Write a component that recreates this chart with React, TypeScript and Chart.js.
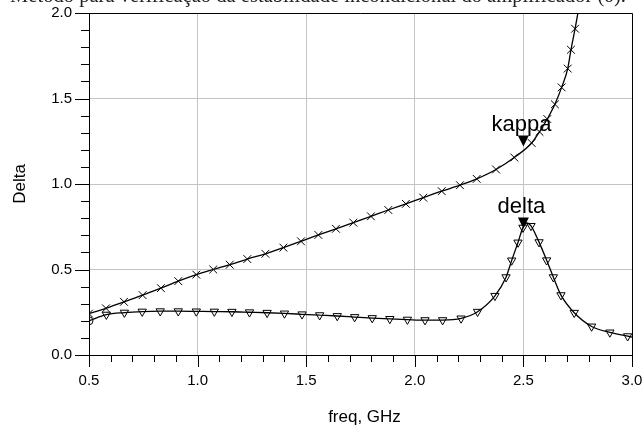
import React, { useEffect, useRef } from 'react';
import { Chart, registerables } from 'chart.js';

Chart.register(...registerables);

// ---- data ----
const kappaX = [0.5, 0.578, 0.661, 0.747, 0.831, 0.911, 0.994, 1.072, 1.148, 1.229, 1.312, 1.395, 1.476, 1.556, 1.637, 1.717, 1.798, 1.878, 1.959, 2.039, 2.124, 2.208, 2.285, 2.374, 2.458, 2.538, 2.574, 2.610, 2.645, 2.676, 2.704, 2.719, 2.738, 2.765];
const kappaY = [0.242, 0.273, 0.311, 0.350, 0.391, 0.432, 0.470, 0.500, 0.528, 0.561, 0.592, 0.628, 0.665, 0.702, 0.738, 0.774, 0.811, 0.848, 0.884, 0.920, 0.958, 0.993, 1.030, 1.085, 1.155, 1.240, 1.305, 1.380, 1.466, 1.565, 1.675, 1.785, 1.908, 2.100];

const deltaX = [0.5, 0.580, 0.663, 0.745, 0.828, 0.911, 0.994, 1.077, 1.158, 1.239, 1.320, 1.400, 1.481, 1.562, 1.643, 1.723, 1.804, 1.885, 1.966, 2.047, 2.128, 2.213, 2.289, 2.369, 2.420, 2.446, 2.475, 2.498, 2.517, 2.535, 2.572, 2.607, 2.638, 2.673, 2.734, 2.814, 2.898, 2.980, 3.0];
const deltaY = [0.200, 0.236, 0.248, 0.254, 0.256, 0.256, 0.255, 0.254, 0.253, 0.250, 0.247, 0.243, 0.238, 0.233, 0.228, 0.222, 0.216, 0.211, 0.207, 0.204, 0.204, 0.214, 0.253, 0.346, 0.455, 0.553, 0.658, 0.745, 0.772, 0.755, 0.660, 0.554, 0.455, 0.350, 0.247, 0.167, 0.132, 0.110, 0.105];
// points that only shape the curve (no symbol drawn)
const deltaNoSymbol = [28, 38];
const kappaNoSymbol = [33];

const xMin = 0.5;
const xMax = 3.0;
const yMin = 0.0;
const yMax = 2.0;

const markerNames = ['kappa', 'delta'];
const markerX = [2.5, 2.5];
const markerY = [1.22, 0.74];

const xTitle = 'freq, GHz';
const yTitle = 'Delta';
const caption = 'Método para verificação da estabilidade incondicional do amplificador (δ).';

const isMajor = (v: number) => Math.abs(v * 2 - Math.round(v * 2)) < 1e-6;

const adsPlugin = {
  id: 'adsDecor',
  afterDraw(chart: any) {
    const { ctx, chartArea: a, scales } = chart;
    const xs = scales.x;
    const ys = scales.y;
    ctx.save();
    // top & right frame
    ctx.strokeStyle = '#000';
    ctx.lineWidth = 1;
    ctx.beginPath();
    ctx.moveTo(a.left, a.top + 0.5);
    ctx.lineTo(a.right + 0.5, a.top + 0.5);
    ctx.lineTo(a.right + 0.5, a.bottom);
    ctx.stroke();
    // x ticks
    ctx.beginPath();
    for (const t of xs.ticks) {
      const px = Math.round(xs.getPixelForValue(t.value)) + 0.5;
      const len = isMajor(t.value) ? 12 : 7;
      ctx.moveTo(px, a.bottom);
      ctx.lineTo(px, a.bottom + len);
    }
    // y ticks
    for (const t of ys.ticks) {
      const py = Math.round(ys.getPixelForValue(t.value)) + 0.5;
      const len = isMajor(t.value) ? 14 : 8;
      ctx.moveTo(a.left, py);
      ctx.lineTo(a.left - len, py);
    }
    ctx.stroke();

    // axis titles
    ctx.fillStyle = '#000';
    ctx.font = '17px "Liberation Sans", Arial, sans-serif';
    ctx.textAlign = 'center';
    ctx.textBaseline = 'middle';
    ctx.fillText(xTitle, (a.left + a.right) / 2 + 4, 417);
    ctx.save();
    ctx.translate(20, (a.top + a.bottom) / 2);
    ctx.rotate(-Math.PI / 2);
    ctx.fillText(yTitle, 0, 0);
    ctx.restore();

    // ADS markers
    ctx.font = '22px "Liberation Sans", Arial, sans-serif';
    ctx.textBaseline = 'alphabetic';
    for (let i = 0; i < markerNames.length; i++) {
      const px = xs.getPixelForValue(markerX[i]);
      const py = ys.getPixelForValue(markerY[i]);
      ctx.fillText(markerNames[i], px - 2, py - 15);
      ctx.beginPath();
      ctx.moveTo(px, py);
      ctx.lineTo(px - 5.5, py - 11);
      ctx.lineTo(px + 5.5, py - 11);
      ctx.closePath();
      ctx.fill();
    }

    // clipped caption above the chart
    ctx.fillStyle = '#222';
    let fs = 19;
    ctx.font = `${fs}px "Liberation Serif", "Times New Roman", serif`;
    const w = ctx.measureText(caption).width;
    fs = (fs * 616) / w;
    ctx.font = `${fs}px "Liberation Serif", "Times New Roman", serif`;
    ctx.textAlign = 'left';
    ctx.fillText(caption, 10, 2);
    ctx.restore();
  },
};

export default function App() {
  const ref = useRef<HTMLCanvasElement | null>(null);
  useEffect(() => {
    if (!ref.current) return;
    const chart = new Chart(ref.current, {
      type: 'line',
      data: {
        datasets: [
          {
            label: 'kappa',
            data: kappaX.map((x, i) => ({ x, y: kappaY[i] })),
            borderColor: '#000',
            borderWidth: 1.3,
            pointStyle: 'crossRot',
            pointRadius: kappaX.map((_, i) => (kappaNoSymbol.includes(i) ? 0 : 5.5)),
            pointBorderColor: '#000',
            pointBorderWidth: 1,
            pointBackgroundColor: 'rgba(0,0,0,0)',
            cubicInterpolationMode: 'monotone',
            fill: false,
          },
          {
            label: 'delta',
            data: deltaX.map((x, i) => ({ x, y: deltaY[i] })),
            borderColor: '#000',
            borderWidth: 1.3,
            pointStyle: deltaX.map((_, i) => (i === 0 ? 'circle' : 'triangle')) as any,
            rotation: 180,
            pointRadius: deltaX.map((_, i) => (deltaNoSymbol.includes(i) ? 0 : i === 0 ? 4 : 4.8)),
            pointBorderColor: '#000',
            pointBorderWidth: 1,
            pointBackgroundColor: 'rgba(255,255,255,0)',
            cubicInterpolationMode: 'monotone',
            fill: false,
          },
        ],
      },
      options: {
        responsive: false,
        animation: false,
        devicePixelRatio: 1,
        layout: { padding: { top: 13, right: 10, left: 0, bottom: 0 } },
        plugins: { legend: { display: false }, tooltip: { enabled: false } },
        scales: {
          x: {
            type: 'linear',
            min: xMin,
            max: xMax,
            afterFit: (s: any) => {
              s.height = 74;
              s.paddingLeft = 0;
              s.paddingRight = 0;
            },
            ticks: {
              stepSize: 0.1,
              autoSkip: false,
              maxRotation: 0,
              minRotation: 0,
              padding: 17,
              color: '#000',
              font: { family: '"Liberation Sans", Arial, sans-serif', size: 15 },
              callback: (v: any) => (isMajor(Number(v)) ? Number(v).toFixed(1) : ''),
            },
            grid: {
              color: (c: any) => (c.tick && isMajor(c.tick.value) ? '#c4c4c4' : 'rgba(0,0,0,0)'),
              drawTicks: false,
              lineWidth: 1,
            },
            border: { color: '#000', width: 1 },
          },
          y: {
            type: 'linear',
            min: yMin,
            max: yMax,
            afterFit: (s: any) => {
              s.width = 89;
              s.paddingTop = 0;
              s.paddingBottom = 0;
            },
            ticks: {
              stepSize: 0.1,
              autoSkip: false,
              padding: 17,
              color: '#000',
              font: { family: '"Liberation Sans", Arial, sans-serif', size: 15 },
              callback: (v: any) => (isMajor(Number(v)) ? Number(v).toFixed(1) : ''),
            },
            grid: {
              color: (c: any) => (c.tick && isMajor(c.tick.value) ? '#c4c4c4' : 'rgba(0,0,0,0)'),
              drawTicks: false,
              lineWidth: 1,
            },
            border: { color: '#000', width: 1 },
          },
        },
      },
      plugins: [adsPlugin],
    } as any);
    return () => chart.destroy();
  }, []);

  return (
    <div style={{ position: 'fixed', left: 0, top: 0, width: 642, height: 429, background: '#fff', overflow: 'hidden' }}>
      <canvas ref={ref} width={642} height={429} style={{ display: 'block', width: 642, height: 429 }} />
    </div>
  );
}
